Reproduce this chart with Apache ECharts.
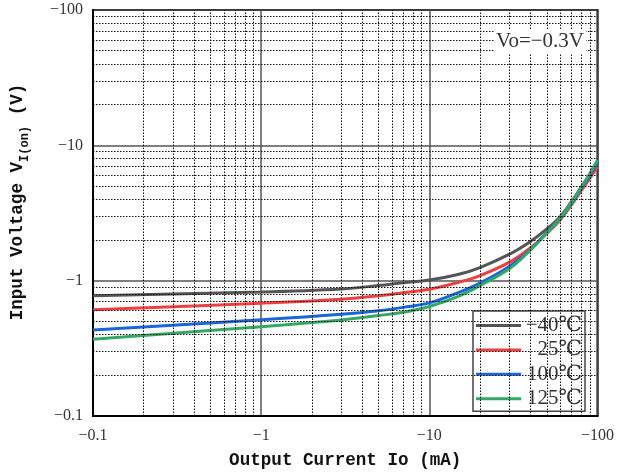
<!DOCTYPE html>
<html>
<head>
<meta charset="utf-8">
<script src="https://cdn.jsdelivr.net/npm/echarts@6/dist/echarts.min.js"></script>
<style>html,body{margin:0;padding:0;background:#fff}#c{width:617px;height:476px}</style>
</head>
<body>
<div id="c"></div>
<script>
const currents = [0.1, 1, 3, 5, 7, 10, 15, 20, 30, 40, 50, 60, 70, 80, 90, 100];
const vMinus40 = [0.775, 0.825, 0.869, 0.92, 0.965, 1.01, 1.115, 1.25, 1.57, 1.95, 2.41, 2.97, 3.83, 4.9, 6.0, 7.44];
const v25 = [0.61, 0.682, 0.729, 0.775, 0.815, 0.865, 0.975, 1.09, 1.37, 1.75, 2.24, 2.81, 3.63, 4.62, 5.7, 6.95];
const v100 = [0.432, 0.514, 0.565, 0.60, 0.635, 0.685, 0.82, 0.96, 1.28, 1.70, 2.28, 2.88, 3.72, 4.8, 6.0, 7.5];
const v125 = [0.369, 0.457, 0.513, 0.553, 0.585, 0.645, 0.77, 0.92, 1.23, 1.69, 2.26, 2.89, 3.77, 4.9, 6.2, 7.8];
const seriesNames = ['−40℃', '25℃', '100℃', '125℃'];
const seriesColors = ['#555555', '#ef4040', '#1866d8', '#33a866'];
const seriesValues = [vMinus40, v25, v100, v125];

const minorVals = [];
[0.1, 1, 10].forEach(d => { for (let k = 2; k <= 9; k++) minorVals.push(+(d * k).toFixed(3)); });

const chart = echarts.init(document.getElementById('c'));
const serif = '"Liberation Serif", "DejaVu Serif", serif';
const mono = '"Liberation Mono", "DejaVu Sans Mono", monospace';

const series = [{
  type: 'line', data: [], z: 1, silent: true,
  markLine: {
    silent: true, symbol: 'none', animation: false,
    label: {show: false},
    lineStyle: {type: [1.5, 1.5], color: '#111', width: 1},
    data: minorVals.map(v => ({xAxis: v})).concat(minorVals.map(v => ({yAxis: v})))
  }
}];
seriesNames.forEach((n, i) => {
  series.push({
    name: n, type: 'line', smooth: 0.4, symbol: 'none', z: 3,
    lineStyle: {width: 3, color: seriesColors[i]},
    itemStyle: {color: seriesColors[i]},
    data: currents.map((x, j) => [x, seriesValues[i][j]])
  });
});

chart.setOption({
  animation: false,
  grid: {left: 93, right: 19, top: 10, bottom: 60, show: true, borderColor: '#000', borderWidth: 2, backgroundColor: 'transparent'},
  title: {
    text: 'Vo=−0.3V', right: 31, top: 29, padding: [2, 2],
    backgroundColor: '#fff',
    textStyle: {fontFamily: serif, fontSize: 21, fontWeight: 'normal', color: '#333'}
  },
  legend: {
    data: seriesNames, orient: 'vertical', left: 473, top: 311,
    padding: [4, 3, 2, 3], itemGap: 3.4, itemWidth: 45, itemHeight: 3, icon: 'rect',
    backgroundColor: '#fff', borderColor: '#444', borderWidth: 1.5,
    textStyle: {
      fontFamily: serif, fontSize: 20, color: '#333',
      rich: {r: {fontFamily: serif, fontSize: 21, color: '#333', width: 56, align: 'right', lineHeight: 20}}
    },
    formatter: n => '{r|' + n + '}'
  },
  xAxis: {
    type: 'log', logBase: 10, min: 0.1, max: 100,
    name: 'Output Current Io (mA)', nameLocation: 'middle', nameGap: 36,
    nameTextStyle: {fontFamily: mono, fontWeight: 'bold', fontSize: 17.6, color: '#111'},
    axisLine: {show: true, lineStyle: {color: '#000', width: 2}},
    axisTick: {show: false},
    axisLabel: {fontFamily: serif, fontSize: 16, color: '#333', margin: 12, formatter: v => '−' + v},
    splitLine: {show: true, lineStyle: {color: '#555', width: 1.5}},
    minorTick: {show: false}, minorSplitLine: {show: false}
  },
  yAxis: {
    type: 'log', logBase: 10, min: 0.1, max: 100,
    name: '{a|Input Voltage V}{b|I(on)}{a| (V)}', nameLocation: 'middle', nameGap: 62,
    nameTextStyle: {
      padding: [0, 0, 0, 22],
      rich: {
        a: {fontFamily: mono, fontWeight: 'bold', fontSize: 17.6, color: '#111', lineHeight: 26, verticalAlign: 'middle'},
        b: {fontFamily: mono, fontWeight: 'bold', fontSize: 12, color: '#111', lineHeight: 26, verticalAlign: 'bottom', padding: [6, 0, 0, 0]}
      }
    },
    axisLine: {show: true, lineStyle: {color: '#000', width: 2}},
    axisTick: {show: false},
    axisLabel: {fontFamily: serif, fontSize: 16, color: '#333', margin: 10, formatter: v => '−' + v},
    splitLine: {show: true, lineStyle: {color: '#555', width: 1.5}},
    minorTick: {show: false}, minorSplitLine: {show: false}
  },
  series: series
});
</script>
</body>
</html>
